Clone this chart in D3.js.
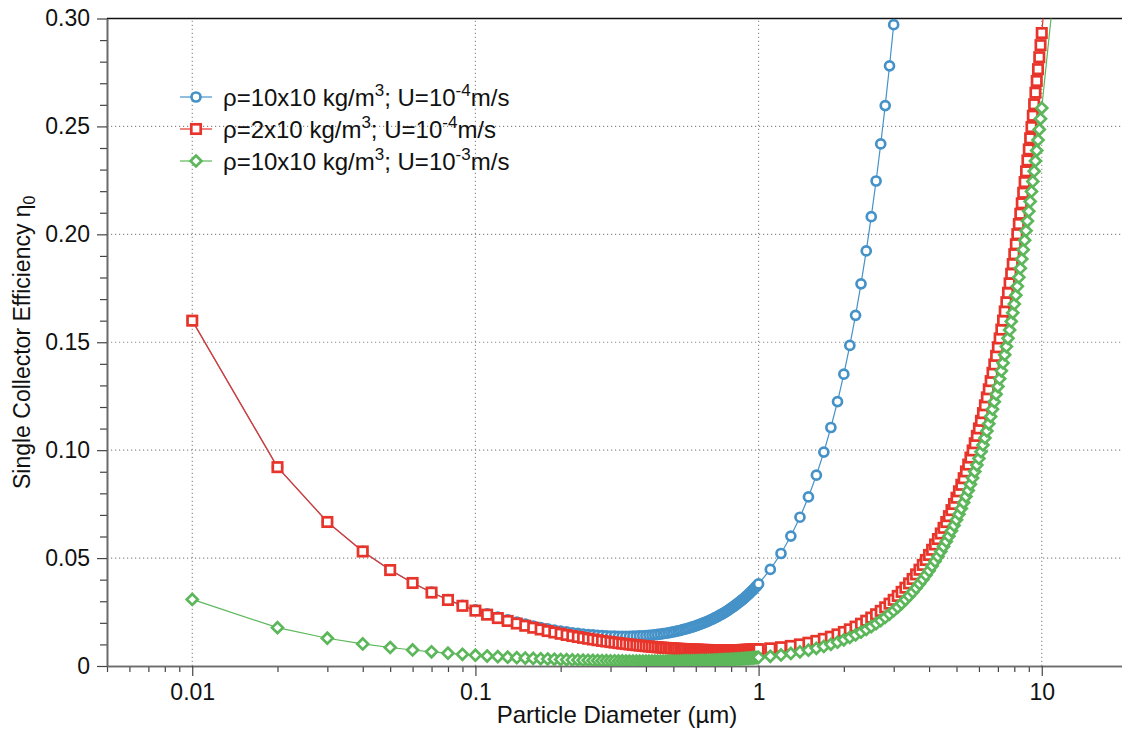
<!DOCTYPE html>
<html>
<head>
<meta charset="utf-8">
<script src="https://cdnjs.cloudflare.com/ajax/libs/d3/7.8.5/d3.min.js"></script>
<style>
body { margin: 0; background: #fff; }
text { font-family: "Liberation Sans", Arial, Helvetica, sans-serif; fill: #111; }
</style>
</head>
<body>
<div id="chart"></div>
<script>
// diametros (um)
const dFine = [0.01,0.02,0.03,0.04,0.05,0.06,0.07,0.08,0.09,0.10,
  0.11,0.12,0.13,0.14,0.15,0.16,0.17,0.18,0.19,0.20,
  0.21,0.22,0.23,0.24,0.25,0.26,0.27,0.28,0.29,0.30,
  0.31,0.32,0.33,0.34,0.35,0.36,0.37,0.38,0.39,0.40,
  0.41,0.42,0.43,0.44,0.45,0.46,0.47,0.48,0.49,0.50,
  0.51,0.52,0.53,0.54,0.55,0.56,0.57,0.58,0.59,0.60,
  0.61,0.62,0.63,0.64,0.65,0.66,0.67,0.68,0.69,0.70,
  0.71,0.72,0.73,0.74,0.75,0.76,0.77,0.78,0.79,0.80,
  0.81,0.82,0.83,0.84,0.85,0.86,0.87,0.88,0.89,0.90,
  0.91,0.92,0.93,0.94,0.95,0.96,0.97,0.98,0.99,1.00]
const dCoarse = [1.1,1.2,1.3,1.4,1.5,1.6,1.7,1.8,1.9,2.0,
  2.1,2.2,2.3,2.4,2.5,2.6,2.7,2.8,2.9,3.0,
  3.1,3.2,3.3,3.4,3.5,3.6,3.7,3.8,3.9,4.0,
  4.1,4.2,4.3,4.4,4.5,4.6,4.7,4.8,4.9,5.0,
  5.1,5.2,5.3,5.4,5.5,5.6,5.7,5.8,5.9,6.0,
  6.1,6.2,6.3,6.4,6.5,6.6,6.7,6.8,6.9,7.0,
  7.1,7.2,7.3,7.4,7.5,7.6,7.7,7.8,7.9,8.0,
  8.1,8.2,8.3,8.4,8.5,8.6,8.7,8.8,8.9,9.0,
  9.1,9.2,9.3,9.4,9.5,9.6,9.7,9.8,9.9,10,
  11]

// eficiencia eta0 por serie
const blueEta = [.1600,.09214,.06677,.05313,.04454,.03857,.03419,.03081,.02814,.02597,
  .02418,.02267,.02140,.02031,.01936,.01854,.01783,.01721,.01667,.01619,
  .01577,.01541,.01509,.01482,.01458,.01438,.01421,.01407,.01396,.01387,
  .01381,.01377,.01376,.01375,.01377,.01381,.01386,.01393,.01401,.01411,
  .01422,.01435,.01449,.01464,.01481,.01498,.01517,.01537,.01558,.01581,
  .01605,.01629,.01655,.01681,.01708,.01737,.01766,.01797,.01827,.01860,
  .01893,.01926,.01961,.01997,.02033,.02071,.02109,.02147,.02187,.02228,
  .02270,.02312,.02355,.02398,.02444,.02489,.02535,.02582,.02630,.02678,
  .02727,.02777,.02828,.02880,.02932,.02984,.03039,.03093,.03149,.03204,
  .03261,.03318,.03377,.03435,.03495,.03555,.03616,.03678,.03741,.03803,
  .04473,.05212,.06019,.06893,.07833,.08840,.09912,.11050,.12252,.13519,
  .14851,.16247,.17707,.19231,.20819,.22471,.24187,.25966,.27809,.29716]

const redEta = [.1600,.09213,.06673,.05307,.04446,.03846,.03403,.03060,.02788,.02565,
  .02379,.02221,.02087,.01969,.01865,.01774,.01692,.01619,.01554,.01494,
  .01439,.01390,.01345,.01303,.01264,.01228,.01195,.01164,.01136,.01108,
  .01084,.01060,.01039,.01018,.00998,.00980,.00963,.00947,.00932,.00918,
  .00904,.00891,.00879,.00869,.00858,.00848,.00838,.00830,.00821,.00814,
  .00807,.00800,.00794,.00788,.00781,.00777,.00772,.00767,.00762,.00759,
  .00755,.00751,.00748,.00746,.00743,.00741,.00739,.00736,.00735,.00734,
  .00733,.00732,.00731,.00731,.00731,.00731,.00731,.00731,.00732,.00732,
  .00733,.00733,.00735,.00736,.00738,.00739,.00741,.00743,.00745,.00747,
  .00749,.00752,.00755,.00757,.00760,.00763,.00766,.00770,.00773,.00776,
  .00818,.00869,.00930,.01000,.01078,.01163,.01257,.01357,.01464,.01578,
  .01698,.01825,.01959,.02098,.02244,.02396,.02554,.02718,.02888,.03065,
  .03246,.03434,.03628,.03828,.04033,.04244,.04461,.04683,.04912,.05146,
  .05385,.05631,.05882,.06139,.06401,.06669,.06943,.07222,.07507,.07797,
  .08093,.08395,.08702,.09015,.09333,.09657,.09986,.10321,.10661,.11007,
  .11359,.11716,.12078,.12446,.12820,.13199,.13583,.13973,.14368,.14769,
  .15176,.15588,.16005,.16428,.16856,.17290,.17729,.18173,.18624,.19079,
  .19540,.20006,.20478,.20955,.21438,.21926,.22420,.22919,.23423,.23933,
  .24448,.24969,.25495,.26026,.26563,.27105,.27653,.28206,.28764,.29327,
  .35265]

const greenEta = [.03085,.01776,.01287,.01023,.00857,.00742,.00658,.00593,.00541,.00499,
  .00463,.00434,.00408,.00387,.00368,.00351,.00336,.00323,.00312,.00301,
  .00292,.00283,.00276,.00269,.00263,.00258,.00253,.00248,.00244,.00241,
  .00238,.00235,.00233,.00230,.00228,.00227,.00225,.00224,.00223,.00223,
  .00222,.00222,.00222,.00222,.00222,.00222,.00223,.00224,.00225,.00226,
  .00227,.00228,.00230,.00231,.00233,.00234,.00236,.00238,.00240,.00242,
  .00245,.00247,.00249,.00252,.00255,.00258,.00260,.00263,.00266,.00270,
  .00273,.00276,.00279,.00283,.00286,.00290,.00294,.00298,.00301,.00305,
  .00309,.00313,.00318,.00322,.00326,.00330,.00335,.00339,.00344,.00349,
  .00353,.00358,.00363,.00368,.00373,.00378,.00383,.00388,.00394,.00399,
  .00451,.00513,.00581,.00655,.00734,.00819,.00909,.01005,.01106,.01213,
  .01324,.01441,.01564,.01691,.01823,.01961,.02103,.02251,.02404,.02562,
  .02725,.02893,.03066,.03244,.03427,.03615,.03809,.04007,.04210,.04418,
  .04631,.04849,.05072,.05300,.05533,.05770,.06013,.06261,.06514,.06771,
  .07033,.07301,.07573,.07850,.08132,.08419,.08711,.09008,.09309,.09616,
  .09927,.10244,.10565,.10891,.11222,.11558,.11898,.12244,.12594,.12949,
  .13309,.13674,.14044,.14418,.14798,.15182,.15571,.15965,.16364,.16767,
  .17176,.17589,.18007,.18430,.18858,.19291,.19728,.20170,.20617,.21069,
  .21526,.21987,.22453,.22924,.23400,.23881,.24366,.24856,.25351,.25851,
  .31116]

// ticks
const xMajor = [0.01, 0.1, 1, 10]
const xMinor = [0.005,0.006,0.007,0.008,0.009, 0.02,0.03,0.04,0.05,0.06,0.07,0.08,0.09,
  0.2,0.3,0.4,0.5,0.6,0.7,0.8,0.9, 2,3,4,5,6,7,8,9, 20]
const yMajor = [0, 0.05, 0.10, 0.15, 0.20, 0.25, 0.30]
const yMinor = [0.01,0.02,0.03,0.04,0.06,0.07,0.08,0.09,0.11,0.12,0.13,0.14,
  0.16,0.17,0.18,0.19,0.21,0.22,0.23,0.24,0.26,0.27,0.28,0.29]

const legendLabels = [
  {pre: "ρ=10x10 kg/m", s1: "3", mid: "; U=10", s2: "-4", post: "m/s"},
  {pre: "ρ=2x10 kg/m", s1: "3", mid: "; U=10", s2: "-4", post: "m/s"},
  {pre: "ρ=10x10 kg/m", s1: "3", mid: "; U=10", s2: "-3", post: "m/s"}
]

// constantes
const width = 1122
const height = 736
const margin = {top: 18.5, bottom: 70, left: 107, right: -5}
const colors = {blue: "#4592c8", red: "#e8352b", green: "#5cb75a"}
const axisColor = "#6b6b6b"

const svg = d3.select("#chart").append("svg").attr("width", width).attr("height", height)

const x = d3.scaleLog().domain([0.005, 20]).range([margin.left, width - margin.right])
const y = d3.scaleLinear().domain([0, 0.30]).range([height - margin.bottom, margin.top])

svg.append("defs").append("clipPath").attr("id", "plotClip")
  .append("rect").attr("x", margin.left).attr("y", margin.top)
  .attr("width", width - margin.right - margin.left).attr("height", y(0) - margin.top)

// rejilla punteada
const gridGroup = svg.append("g").attr("id", "gridGroup")
gridGroup.selectAll("line.vgrid").data(xMajor).join("line")
  .attr("class", "vgrid")
  .attr("x1", d => x(d)).attr("x2", d => x(d))
  .attr("y1", y(0)).attr("y2", y(0.30))
gridGroup.selectAll("line.hgrid").data(yMajor.slice(1, -1)).join("line")
  .attr("class", "hgrid")
  .attr("x1", margin.left).attr("x2", width)
  .attr("y1", d => y(d)).attr("y2", d => y(d))
gridGroup.selectAll("line")
  .attr("stroke", "#8a8a8a").attr("stroke-width", 1.1).attr("stroke-dasharray", "1.2,2.8")

// borde superior
svg.append("line").attr("x1", margin.left).attr("x2", width)
  .attr("y1", margin.top).attr("y2", margin.top)
  .attr("stroke", "#111").attr("stroke-width", 1.5)

// ejes
const xAxisGroup = svg.append("g").attr("transform", `translate(0, ${y(0)})`)
xAxisGroup.append("g").call(d3.axisBottom(x).tickValues(xMinor).tickFormat("").tickSize(6).tickSizeOuter(0))
xAxisGroup.append("g").call(d3.axisBottom(x).tickValues(xMajor).tickFormat(d3.format("~g")).tickSize(10).tickSizeOuter(0).tickPadding(8))

const yAxisGroup = svg.append("g").attr("transform", `translate(${margin.left}, 0)`)
yAxisGroup.append("g").call(d3.axisLeft(y).tickValues(yMinor).tickFormat("").tickSize(7).tickSizeOuter(0))
yAxisGroup.append("g").call(d3.axisLeft(y).tickValues(yMajor)
  .tickFormat(d => d === 0 ? "0" : d3.format(".2f")(d)).tickSize(10).tickSizeOuter(0).tickPadding(7))

svg.selectAll(".domain").attr("stroke", axisColor).attr("stroke-width", 1.6)
svg.selectAll(".tick line").attr("stroke", "#444").attr("stroke-width", 1.2)
svg.selectAll(".tick text").attr("font-size", 23).attr("font-family", null).attr("fill", "#111")

// titulos
svg.append("text").attr("x", (margin.left + width - margin.right) / 2).attr("y", 723)
  .attr("text-anchor", "middle").attr("font-size", 24).text("Particle Diameter (µm)")
const yTitle = svg.append("text").attr("transform", `translate(30, ${(y(0) + margin.top) / 2}) rotate(-90)`)
  .attr("text-anchor", "middle").attr("font-size", 23)
yTitle.append("tspan").text("Single Collector Efficiency η")
yTitle.append("tspan").attr("font-size", 16).attr("dy", 5).text("0")

// series
const allD = dFine.concat(dCoarse)
const series = [
  {name: "blue", color: colors.blue, values: blueEta.map((v, i) => ({d: allD[i], v}))},
  {name: "red", color: colors.red, values: redEta.map((v, i) => ({d: allD[i], v}))},
  {name: "green", color: colors.green, values: greenEta.map((v, i) => ({d: allD[i], v}))}
]

const line = d3.line().x(d => x(d.d)).y(d => y(d.v))
const diamond = d3.symbol().type(d3.symbolDiamond2).size(76)

const elementGroup = svg.append("g").attr("id", "elementGroup").attr("clip-path", "url(#plotClip)")

function drawMarkers(g, s, withData) {
  const sel = g.selectAll(".m").data(withData).join(s.name === "blue" ? "circle" : s.name === "red" ? "rect" : "path")
    .attr("class", "m")
    .attr("fill", "#fff").attr("stroke", s.color).attr("stroke-width", 2.7)
  if (s.name === "blue") sel.attr("cx", d => x(d.d)).attr("cy", d => y(d.v)).attr("r", 4.5)
  else if (s.name === "red") sel.attr("x", d => x(d.d) - 4.7).attr("y", d => y(d.v) - 4.7).attr("width", 9.4).attr("height", 9.4)
  else sel.attr("d", diamond).attr("transform", d => `translate(${x(d.d)}, ${y(d.v)})`)
}

series.forEach(s => {
  const g = elementGroup.append("g")
  g.append("path").datum(s.values).attr("d", line)
    .attr("fill", "none").attr("stroke", s.color).attr("stroke-width", 1.2)
  drawMarkers(g, s, s.values)
})

// leyenda
const legendGroup = svg.append("g").attr("id", "legendGroup")
series.forEach((s, i) => {
  const cy = 97 + i * 32
  const g = legendGroup.append("g")
  g.append("line").attr("x1", 180).attr("x2", 212).attr("y1", cy).attr("y2", cy)
    .attr("stroke", s.color).attr("stroke-width", 1.2)
  drawMarkers(g, s, [{d: x.invert(196), v: y.invert(cy)}])
  const lab = legendLabels[i]
  const t = g.append("text").attr("x", 223).attr("y", cy + 8.5).attr("font-size", 24)
  t.append("tspan").text(lab.pre)
  t.append("tspan").attr("font-size", 17).attr("dy", -10).text(lab.s1)
  t.append("tspan").attr("dy", 10).text(lab.mid)
  t.append("tspan").attr("font-size", 17).attr("dy", -10).text(lab.s2)
  t.append("tspan").attr("dy", 10).text(lab.post)
})
</script>
</body>
</html>
